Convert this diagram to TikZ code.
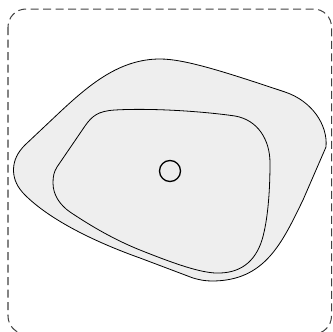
\documentclass[tikz,border=0pt]{standalone}
\begin{document}
\begin{tikzpicture}[x=1pt,y=-1pt,
  blob/.style={draw=black,fill=blobgray,line width=0.8pt},
  frame/.style={draw=black!75,line width=1pt,dash pattern=on 8pt off 4.5pt,rounded corners=18pt}]
\definecolor{blobgray}{HTML}{EEEEEE}
\useasboundingbox (0,0) rectangle (333,332);
\draw[frame] (8,9) rectangle (331.5,334);
\draw[blob] (13.5,170) .. controls (13.5,160) and (18,152) .. (25,145)
  -- (60,112) .. controls (90,84) and (120,59) .. (160,59)
  .. controls (185,59) and (225,72) .. (285,92)
  .. controls (312,101) and (328,125) .. (326,147)
  -- (303,200) .. controls (282,243) and (265,281) .. (212,281)
  .. controls (205,281) and (200,280) .. (193,278)
  -- (140,258) .. controls (95,242) and (50,220) .. (25,195)
  .. controls (18,188) and (13.5,180) .. (13.5,170) -- cycle;
\draw[blob] (53,183) .. controls (53,176) and (54,172) .. (57,167)
  -- (85,126) .. controls (92,116) and (98,111) .. (115,110)
  .. controls (150,108) and (200,111) .. (235,116)
  .. controls (258,120) and (270,140) .. (270,163)
  .. controls (270,190) and (268,220) .. (262,240)
  .. controls (255,262) and (240,274) .. (215,273)
  .. controls (200,272) and (180,266) .. (140,250)
  .. controls (110,238) and (85,222) .. (70,212)
  .. controls (60,205) and (53,195) .. (53,183) -- cycle;
\node[draw=black,circle,line width=1.3pt,minimum size=21pt,inner sep=0pt] (c) at (170,171) {};
\end{tikzpicture}
\end{document}
